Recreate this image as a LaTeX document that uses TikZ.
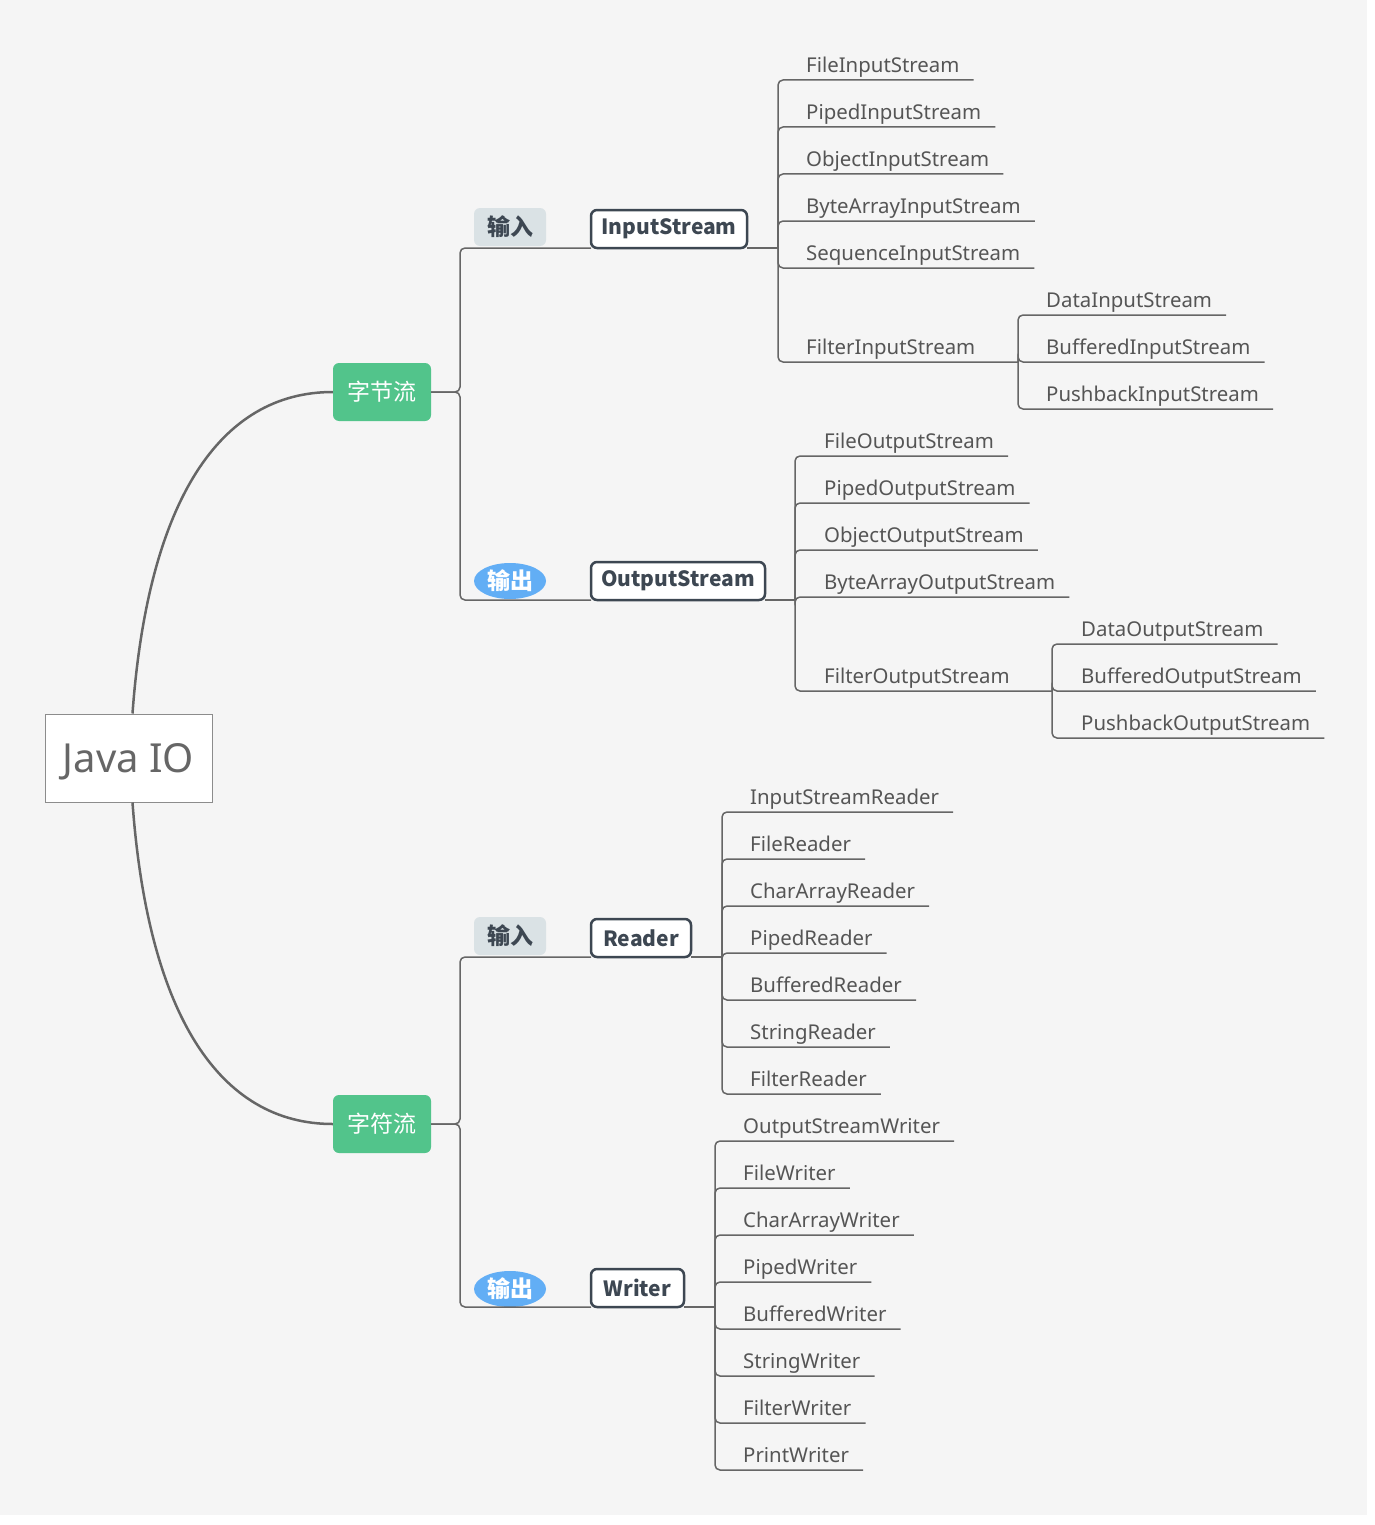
\documentclass[tikz,border=0pt]{standalone}
\usepackage{fontspec}
\usetikzlibrary{shapes.geometric}
\setmainfont{Noto Sans}
\newfontfamily\cjk{Noto Sans CJK SC}

\definecolor{bgcol}{HTML}{F5F5F5}
\definecolor{linegray}{HTML}{666666}
\definecolor{leafgray}{HTML}{555555}
\definecolor{darkslate}{HTML}{3D4752}
\definecolor{topicgreen}{HTML}{52C48B}
\definecolor{tagblue}{HTML}{62AEF5}
\definecolor{taggray}{HTML}{DAE2E5}

\tikzset{
  rootbox/.style={rectangle, draw=gray!90, fill=white, line width=1pt,
    minimum width=167pt, minimum height=88pt, text=linegray, text depth=0pt,
    font=\fontsize{40}{48}\selectfont},
  topic/.style={rectangle, rounded corners=6pt, fill=topicgreen, text=white,
    minimum width=98pt, minimum height=58pt, font=\cjk\fontsize{23}{28}\selectfont},
  intag/.style={rectangle, rounded corners=6pt, fill=taggray, text=darkslate,
    minimum width=72pt, minimum height=38pt, font=\cjk\bfseries\fontsize{23}{28}\selectfont},
  outtag/.style={ellipse, fill=tagblue, text=white, inner sep=0pt,
    minimum width=72pt, minimum height=36pt, font=\cjk\bfseries\fontsize{23}{28}\selectfont},
  classbox/.style={rectangle, rounded corners=6pt, draw=darkslate, fill=white,
    line width=2.5pt, outer sep=0pt, minimum height=38pt, text=darkslate,
    font=\cjk\bfseries\fontsize{21}{25}\selectfont},
  leaf/.style={anchor=south west, inner xsep=14pt, inner ysep=7pt, text depth=0pt,
    text=leafgray, font=\fontsize{20.4}{24}\selectfont},
  trunk/.style={draw=linegray, line width=2.5pt},
  branch/.style={draw=linegray, line width=1.5pt, rounded corners=5pt},
}

\begin{document}
\begin{tikzpicture}[x=1pt, y=-1pt]
    % 背景与画布大小
    \useasboundingbox (0,0) rectangle (1375,1525);
    \fill[bgcol] (0,0) rectangle (1367,1515);

    % 中心主题
    \node[rootbox] (root) at (128.5,758) {Java IO};

    % 一级分支：字节流、字符流
    \node[topic] (byte) at (382,392) {字节流};
    \node[topic] (char) at (382,1124) {字符流};
    \draw[trunk] ([xshift=4pt]root.north) .. controls (148,500) and (220,392) .. (byte.west);
    \draw[trunk] ([xshift=4pt]root.south) .. controls (148,1016) and (220,1124) .. (char.west);

    % 输入/输出标签与抽象基类
    \node[intag] (bin) at (510,227) {输入};
    \node[outtag] (bout) at (510,581) {输出};
    \node[intag] (cin) at (510,936) {输入};
    \node[outtag] (cout) at (510,1289) {输出};
    \node[classbox, minimum width=156pt] (ins) at (669,229) {InputStream};
    \node[classbox, minimum width=174pt] (outs) at (678,581) {OutputStream};
    \node[classbox, minimum width=100pt] (rdr) at (641,938) {Reader};
    \node[classbox, minimum width=93pt] (wtr) at (637.5,1288) {Writer};

    \coordinate (bj1) at (460,392);
    \coordinate (bj2) at (460,1124);
    \draw[branch] (byte.east) -- (bj1) |- (ins.south west);
    \draw[branch] (byte.east) -- (bj1) |- (outs.south west);
    \draw[branch] (char.east) -- (bj2) |- (rdr.south west);
    \draw[branch] (char.east) -- (bj2) |- (wtr.south west);

    % InputStream 子类
    \coordinate (isj) at (778,248);
    \node[leaf] (fis) at (792,80) {FileInputStream};
    \node[leaf] (pis) at (792,127) {PipedInputStream};
    \node[leaf] (ois) at (792,174) {ObjectInputStream};
    \node[leaf] (bais) at (792,221) {ByteArrayInputStream};
    \node[leaf] (sis) at (792,268) {SequenceInputStream};
    \node[leaf] (fltis) at (792,362) {FilterInputStream};
    \draw[branch] (ins.south east) -- (isj);
    \draw[branch] (isj) |- (fis.south west) -- (fis.south east);
    \draw[branch] (isj) |- (pis.south west) -- (pis.south east);
    \draw[branch] (isj) |- (ois.south west) -- (ois.south east);
    \draw[branch] (isj) |- (bais.south west) -- (bais.south east);
    \draw[branch] (isj) |- (sis.south west) -- (sis.south east);
    \coordinate (fisj) at (1018,362);
    \draw[branch] (isj) |- (fltis.south west) -- (fltis.south east) -- (fisj);

    % FilterInputStream 子类
    \node[leaf] (dis) at (1032,315) {DataInputStream};
    \node[leaf] (bis) at (1032,362) {BufferedInputStream};
    \node[leaf] (pbis) at (1032,409) {PushbackInputStream};
    \draw[branch] (fisj) |- (dis.south west) -- (dis.south east);
    \draw[branch] (fisj) |- (bis.south west) -- (bis.south east);
    \draw[branch] (fisj) |- (pbis.south west) -- (pbis.south east);

    % OutputStream 子类
    \coordinate (osj) at (795,600);
    \node[leaf] (fos) at (810,456) {FileOutputStream};
    \node[leaf] (pos) at (810,503) {PipedOutputStream};
    \node[leaf] (oos) at (810,550) {ObjectOutputStream};
    \node[leaf] (baos) at (810,597) {ByteArrayOutputStream};
    \node[leaf] (fltos) at (810,691) {FilterOutputStream};
    \draw[branch] (outs.south east) -- (osj);
    \draw[branch] (osj) |- (fos.south west) -- (fos.south east);
    \draw[branch] (osj) |- (pos.south west) -- (pos.south east);
    \draw[branch] (osj) |- (oos.south west) -- (oos.south east);
    \draw[branch] (osj) |- (baos.south west) -- (baos.south east);
    \coordinate (fosj) at (1052,691);
    \draw[branch] (osj) |- (fltos.south west) -- (fltos.south east) -- (fosj);

    % FilterOutputStream 子类
    \node[leaf] (dos) at (1067,644) {DataOutputStream};
    \node[leaf] (bos) at (1067,691) {BufferedOutputStream};
    \node[leaf] (pbos) at (1067,738) {PushbackOutputStream};
    \draw[branch] (fosj) |- (dos.south west) -- (dos.south east);
    \draw[branch] (fosj) |- (bos.south west) -- (bos.south east);
    \draw[branch] (fosj) |- (pbos.south west) -- (pbos.south east);

    % Reader 子类
    \coordinate (rj) at (722,957);
    \node[leaf] (isr) at (736,812) {InputStreamReader};
    \node[leaf] (fr) at (736,859) {FileReader};
    \node[leaf] (car) at (736,906) {CharArrayReader};
    \node[leaf] (pr) at (736,953) {PipedReader};
    \node[leaf] (br) at (736,1000) {BufferedReader};
    \node[leaf] (sr) at (736,1047) {StringReader};
    \node[leaf] (fltr) at (736,1094) {FilterReader};
    \draw[branch] (rdr.south east) -- (rj);
    \draw[branch] (rj) |- (isr.south west) -- (isr.south east);
    \draw[branch] (rj) |- (fr.south west) -- (fr.south east);
    \draw[branch] (rj) |- (car.south west) -- (car.south east);
    \draw[branch] (rj) |- (pr.south west) -- (pr.south east);
    \draw[branch] (rj) |- (br.south west) -- (br.south east);
    \draw[branch] (rj) |- (sr.south west) -- (sr.south east);
    \draw[branch] (rj) |- (fltr.south west) -- (fltr.south east);

    % Writer 子类
    \coordinate (wj) at (715,1307);
    \node[leaf] (osw) at (729,1141) {OutputStreamWriter};
    \node[leaf] (fw) at (729,1188) {FileWriter};
    \node[leaf] (caw) at (729,1235) {CharArrayWriter};
    \node[leaf] (pw) at (729,1282) {PipedWriter};
    \node[leaf] (bw) at (729,1329) {BufferedWriter};
    \node[leaf] (stw) at (729,1376) {StringWriter};
    \node[leaf] (fltw) at (729,1423) {FilterWriter};
    \node[leaf] (prw) at (729,1470) {PrintWriter};
    \draw[branch] (wtr.south east) -- (wj);
    \draw[branch] (wj) |- (osw.south west) -- (osw.south east);
    \draw[branch] (wj) |- (fw.south west) -- (fw.south east);
    \draw[branch] (wj) |- (caw.south west) -- (caw.south east);
    \draw[branch] (wj) |- (pw.south west) -- (pw.south east);
    \draw[branch] (wj) |- (bw.south west) -- (bw.south east);
    \draw[branch] (wj) |- (stw.south west) -- (stw.south east);
    \draw[branch] (wj) |- (fltw.south west) -- (fltw.south east);
    \draw[branch] (wj) |- (prw.south west) -- (prw.south east);
\end{tikzpicture}
\end{document}
